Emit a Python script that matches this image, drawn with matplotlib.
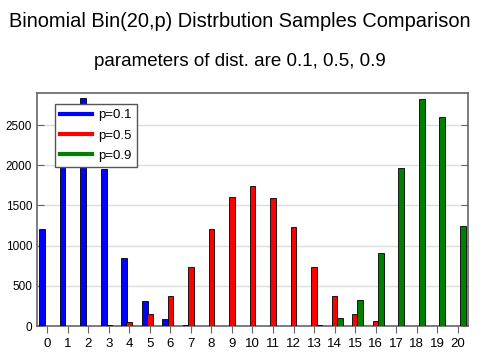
import numpy as np
import matplotlib
matplotlib.use("Agg")
import matplotlib.pyplot as plt

plt.rcParams['font.family'] = ['Liberation Sans', 'DejaVu Sans']

# sample counts per outcome k = 0..20 (10000 samples each)
k_values = list(range(21))
counts_p01 = [1207, 2700, 2836, 1950, 850, 315, 91, 12, 2, 0, 0, 0, 0, 0, 0, 0, 0, 0, 0, 0, 0]
counts_p05 = [0, 0, 1, 11, 50, 150, 373, 738, 1207, 1605, 1742, 1588, 1235, 738, 377, 153, 66, 8, 1, 0, 0]
counts_p09 = [0, 0, 0, 0, 0, 0, 0, 0, 0, 0, 0, 1, 3, 12, 103, 327, 912, 1970, 2824, 2600, 1248]
labels = ['p=0.1', 'p=0.5', 'p=0.9']
colors = ['#0000ff', '#ff0000', '#007f00']

fig = plt.figure(figsize=(4.8, 3.6), dpi=100)
ax = fig.add_axes([0.077, 0.094, 0.898, 0.648])

x = np.array(k_values)
width = 0.28
offsets = [-0.25, 0.0, 0.25]
for data, off, col, lab in zip([counts_p01, counts_p05, counts_p09], offsets, colors, labels):
    ax.bar(x + off, data, width=width, color=col, edgecolor='black', linewidth=0.6, zorder=3)
    ax.plot([], [], color=col, lw=3, label=lab)

ax.set_xlim(-0.5, 20.5)
ax.set_ylim(0, 2900)
ax.set_xticks(k_values)
ax.set_yticks([0, 500, 1000, 1500, 2000, 2500])
ax.yaxis.grid(True, color='#dddddd', linewidth=1, zorder=0)
ax.tick_params(axis='y', direction='in', left=True, right=True, length=5, color='#666666', labelsize=8.5)
ax.tick_params(axis='x', direction='out', length=5, color='#666666', labelsize=9.5)
for s in ax.spines.values():
    s.set_color('#666666')
    s.set_linewidth(1.2)

leg = ax.legend(loc='upper left', bbox_to_anchor=(0.042, 0.953), borderaxespad=0,
                fancybox=False, framealpha=1, edgecolor='#555555', fontsize=9.5,
                handlelength=2.4, labelspacing=0.6, handletextpad=0.5)
leg.get_frame().set_linewidth(1.0)
leg.set_zorder(5)

fig.text(0.5, 0.94, 'Binomial Bin(20,p) Distrbution Samples Comparison', ha='center', va='center', fontsize=14.4)
fig.text(0.5, 0.828, 'parameters of dist. are 0.1, 0.5, 0.9', ha='center', va='center', fontsize=13.5)

fig.savefig('out.png', dpi=100)
